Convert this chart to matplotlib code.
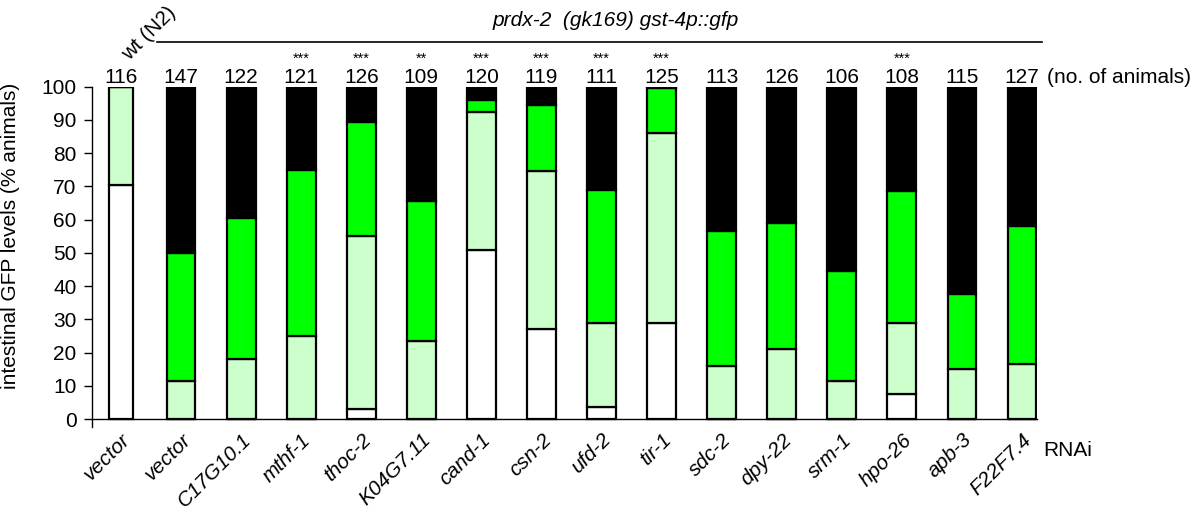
import matplotlib
matplotlib.use("Agg")
import matplotlib.pyplot as plt
from matplotlib.lines import Line2D
import numpy as np

plt.rcParams["font.family"] = ["Liberation Sans", "DejaVu Sans"]

# --- data -----------------------------------------------------------------
rnai = ["vector", "vector", "C17G10.1", "mthf-1", "thoc-2", "K04G7.11", "cand-1",
        "csn-2", "ufd-2", "tir-1", "sdc-2", "dpy-22", "srm-1", "hpo-26", "apb-3",
        "F22F7.4"]
n_animals = [116, 147, 122, 121, 126, 109, 120, 119, 111, 125, 113, 126, 106, 108,
             115, 127]
stars = ["", "", "", "***", "***", "**", "***", "***", "***", "***", "", "", "",
         "***", "", ""]
# % animals per GFP class (none / low / medium / high)
pct_none = [70.5, 0, 0, 0, 3.0, 0, 51.0, 27.0, 3.5, 29.0, 0, 0, 0, 7.5, 0, 0]
pct_low = [29.5, 11.5, 18.0, 25.0, 52.0, 23.5, 41.5, 47.5, 25.5, 57.0, 16.0, 21.0,
           11.5, 21.3, 15.0, 16.5]
pct_med = [0, 38.5, 42.5, 50.0, 34.5, 42.0, 3.5, 20.0, 40.0, 13.5, 40.5, 38.0,
           33.0, 39.7, 22.5, 41.5]
pct_high = [0, 50.0, 39.5, 25.0, 10.5, 34.5, 4.0, 5.5, 31.0, 0.5, 43.5, 41.0,
            55.5, 31.5, 62.5, 42.0]

COLORS = ["white", "#ccffcc", "#00ff00", "black"]
FS = 15

fig = plt.figure(figsize=(11.96, 5.14), dpi=100)
ax = fig.add_axes([92 / 1196, (514 - 426.7) / 514, 945 / 1196, 340 / 514])

# spine placement first: set_position resets the tick objects
for s in ["top", "right"]:
    ax.spines[s].set_visible(False)
ax.spines["bottom"].set_position(("data", 0))
for s in ["left", "bottom"]:
    ax.spines[s].set_linewidth(1)

x = np.arange(len(rnai))
widths = np.full(len(rnai), 0.48)
widths[0] = 0.40
bottom = np.zeros(len(rnai))
for vals, col in zip([pct_none, pct_low, pct_med, pct_high], COLORS):
    vals = np.array(vals)
    ax.bar(x, vals, widths, bottom=bottom, color=col, edgecolor="black",
           linewidth=1.6, zorder=2)
    bottom += vals

ax.set_xlim(-0.483, 15.25)
ax.set_ylim(-2.3, 100)
ax.set_yticks(np.arange(0, 101, 10))
ax.set_xticks(x)
ax.set_xticklabels(rnai, rotation=45, ha="right", va="top",
                   rotation_mode="anchor", style="italic", fontsize=FS)
ax.tick_params(axis="y", direction="out", length=6, width=1, labelsize=FS, pad=5)
ax.tick_params(axis="x", length=0, pad=8)

ax.set_ylabel("intestinal GFP levels (% animals)", fontsize=FS)
ax.yaxis.set_label_coords(-0.076, 0.56)

# counts and significance above bars
for xi, n, st in zip(x, n_animals, stars):
    ax.text(xi, 101.2, str(n), ha="center", va="baseline", fontsize=FS,
            clip_on=False)
    if st:
        ax.text(xi, 108.3, st, ha="center", va="center", fontsize=10.5,
                clip_on=False)
ax.text(15.42, 101.2, "(no. of animals)", ha="left", va="baseline", fontsize=FS,
        clip_on=False)

# header
fig.text(616 / 1196, 1 - 20 / 514, "prdx-2  (gk169) gst-4p::gfp", ha="center",
         va="center", fontsize=FS, style="italic")
fig.add_artist(Line2D([157 / 1196, 1042 / 1196], [1 - 41.7 / 514, 1 - 41.7 / 514],
                      color="black", linewidth=1.2, transform=fig.transFigure))
fig.text(149 / 1196, 1 - 33 / 514, "wt (N2)", ha="center", va="center",
         fontsize=FS, rotation=45)
fig.text(1043 / 1196, 1 - 451 / 514, "RNAi", ha="left", va="center", fontsize=FS)

fig.savefig("out.png", dpi=100)
